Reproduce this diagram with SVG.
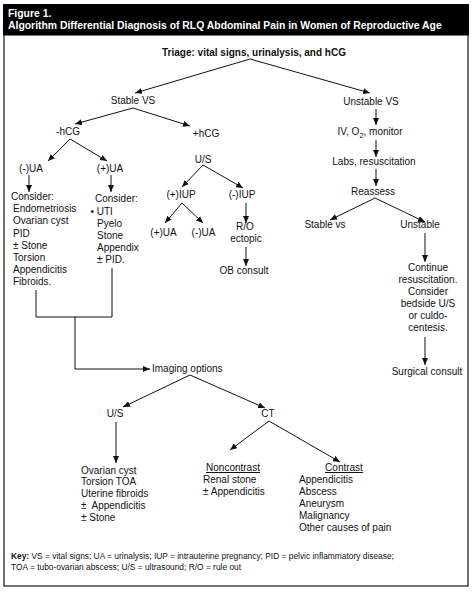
<svg xmlns="http://www.w3.org/2000/svg" width="474" height="592" viewBox="0 0 474 592">
<style>
.t{font-family:"Liberation Sans",Arial,sans-serif;font-size:10px;fill:#111}
.c{text-anchor:middle}
.b{font-weight:bold}
.h{font-family:"Liberation Sans",Arial,sans-serif;font-size:10.4px;font-weight:bold;fill:#fff}
.k{font-family:"Liberation Sans",Arial,sans-serif;font-size:8.4px;fill:#111}
.l{fill:none;stroke:#111;stroke-width:1}
.a{fill:none;stroke:#111;stroke-width:1;marker-end:url(#ah)}
.u{text-decoration:underline}
</style>
<defs>
<marker id="ah" markerUnits="userSpaceOnUse" markerWidth="8" markerHeight="6" refX="7" refY="3" orient="auto">
<path d="M0,0 L7,3 L0,6 z" fill="#111"/>
</marker>
</defs>
<rect x="0" y="0" width="474" height="592" fill="#fff"/>
<rect x="4" y="35" width="464" height="551" fill="#fff" stroke="#444" stroke-width="1.5"/>
<g id="header">
<rect x="3" y="4" width="466" height="31" fill="#000"/>
<text class="h" x="8" y="17">Figure 1.</text>
<text class="h" x="8" y="29">Algorithm Differential Diagnosis of RLQ Abdominal Pain in Women of Reproductive Age</text>
</g>
<g id="connectors">
<line class="a" x1="250" y1="59" x2="135" y2="93"/>
<line class="a" x1="250" y1="59" x2="370" y2="93"/>
<line class="a" x1="133" y1="108" x2="75" y2="124"/>
<line class="a" x1="133" y1="108" x2="190" y2="126"/>
<line class="a" x1="70" y1="139" x2="48" y2="161"/>
<line class="a" x1="70" y1="139" x2="107" y2="161"/>
<line class="a" x1="29" y1="175" x2="29" y2="192"/>
<line class="a" x1="111" y1="175" x2="111" y2="192"/>
<line class="a" x1="203" y1="165" x2="182" y2="187"/>
<line class="a" x1="203" y1="165" x2="243" y2="188"/>
<line class="a" x1="182" y1="203" x2="165" y2="223"/>
<line class="a" x1="182" y1="203" x2="203" y2="223"/>
<line class="a" x1="246" y1="203" x2="246" y2="223"/>
<line class="a" x1="246" y1="247" x2="246" y2="266"/>
<polyline class="l" points="36,290 36,317 112,317 112,268"/>
<polyline class="a" points="75,317 75,369 150,369"/>
<line class="a" x1="190" y1="375" x2="123" y2="407"/>
<line class="a" x1="190" y1="375" x2="265" y2="408"/>
<line class="a" x1="116" y1="422" x2="116" y2="463"/>
<line class="a" x1="269" y1="421" x2="230" y2="450"/>
<line class="a" x1="269" y1="421" x2="340" y2="462"/>
<line class="a" x1="376" y1="109" x2="376" y2="125"/>
<line class="a" x1="376" y1="140" x2="376" y2="157"/>
<line class="a" x1="376" y1="169" x2="376" y2="186"/>
<line class="a" x1="375" y1="198" x2="330" y2="220"/>
<line class="a" x1="375" y1="198" x2="425" y2="222"/>
<line class="a" x1="425" y1="233" x2="425" y2="262"/>
<line class="a" x1="425" y1="337" x2="425" y2="365"/>
</g>
<g id="triage"><text class="t c b" x="254" y="56">Triage: vital signs, urinalysis, and hCG</text></g>
<g id="stable"><text class="t c" x="133" y="104">Stable VS</text></g>
<g id="unstable"><text class="t c" x="371" y="105">Unstable VS</text></g>
<g id="neg-hcg"><text class="t c" x="68" y="135">-hCG</text></g>
<g id="pos-hcg"><text class="t c" x="206" y="137">+hCG</text></g>
<g id="neg-ua"><text class="t c" x="31" y="172">(-)UA</text></g>
<g id="pos-ua"><text class="t c" x="110" y="172">(+)UA</text></g>
<g id="consider1">
<text class="t" x="11" y="199.5">Consider:</text>
<text class="t" x="13" y="212">Endometriosis</text>
<text class="t" x="13" y="224">Ovarian cyst</text>
<text class="t" x="13" y="236.5">PID</text>
<text class="t" x="13" y="248.5">± Stone</text>
<text class="t" x="13" y="260.5">Torsion</text>
<text class="t" x="13" y="272.5">Appendicitis</text>
<text class="t" x="13" y="284.5">Fibroids.</text>
</g>
<g id="consider2">
<text class="t" x="95" y="202">Consider:</text>
<text class="t" x="90.5" y="214.5">• UTI</text>
<text class="t" x="97" y="226.5">Pyelo</text>
<text class="t" x="97" y="238.5">Stone</text>
<text class="t" x="97" y="250.5">Appendix</text>
<text class="t" x="97" y="262.5">± PID.</text>
</g>
<g id="us1"><text class="t c" x="203" y="163">U/S</text></g>
<g id="pos-iup"><text class="t c" x="181" y="198">(+)IUP</text></g>
<g id="neg-iup"><text class="t c" x="242" y="198">(-)IUP</text></g>
<g id="pos-ua2"><text class="t c" x="163.5" y="235.5">(+)UA</text></g>
<g id="neg-ua2"><text class="t c" x="203.5" y="235.5">(-)UA</text></g>
<g id="ro-ectopic">
<text class="t c" x="245" y="230">R/O</text>
<text class="t c" x="246" y="242">ectopic</text>
</g>
<g id="ob-consult"><text class="t c" x="244" y="274">OB consult</text></g>
<g id="iv"><text class="t c" x="370" y="135">IV, O<tspan font-size="7.5" dy="2.5">2</tspan><tspan dy="-2.5">, monitor</tspan></text></g>
<g id="labs"><text class="t c" x="374" y="165">Labs, resuscitation</text></g>
<g id="reassess"><text class="t c" x="373" y="195">Reassess</text></g>
<g id="stable-vs"><text class="t c" x="325" y="228">Stable vs</text></g>
<g id="unstable2"><text class="t c" x="420" y="228">Unstable</text></g>
<g id="continue">
<text class="t c" x="428" y="271">Continue</text>
<text class="t c" x="428" y="283">resuscitation.</text>
<text class="t c" x="428" y="295">Consider</text>
<text class="t c" x="428" y="307">bedside U/S</text>
<text class="t c" x="428" y="319">or culdo-</text>
<text class="t c" x="428" y="331">centesis.</text>
</g>
<g id="surgical"><text class="t c" x="427" y="375">Surgical consult</text></g>
<g id="imaging"><text class="t" x="152" y="372">Imaging options</text></g>
<g id="us2"><text class="t c" x="115" y="417">U/S</text></g>
<g id="ct"><text class="t c" x="268" y="417">CT</text></g>
<g id="us-list">
<text class="t" x="81" y="473.5">Ovarian cyst</text>
<text class="t" x="81" y="485">Torsion TOA</text>
<text class="t" x="81" y="497">Uterine fibroids</text>
<text class="t" x="81" y="509" xml:space="preserve">±  Appendicitis</text>
<text class="t" x="81" y="521">± Stone</text>
</g>
<g id="noncontrast">
<text class="t c u" x="233" y="471">Noncontrast</text>
<text class="t" x="203" y="483">Renal stone</text>
<text class="t" x="203" y="495">± Appendicitis</text>
</g>
<g id="contrast">
<text class="t c u" x="344" y="471">Contrast</text>
<text class="t" x="299" y="483">Appendicitis</text>
<text class="t" x="299" y="495">Abscess</text>
<text class="t" x="299" y="507">Aneurysm</text>
<text class="t" x="299" y="519">Malignancy</text>
<text class="t" x="299" y="531">Other causes of pain</text>
</g>
<g id="key">
<text class="k" x="11" y="559"><tspan font-weight="bold">Key:</tspan> VS = vital signs; UA = urinalysis; IUP = intrauterine pregnancy; PID = pelvic inflammatory disease;</text>
<text class="k" x="11" y="570">TOA = tubo-ovarian abscess; U/S = ultrasound; R/O = rule out</text>
</g>
</svg>
